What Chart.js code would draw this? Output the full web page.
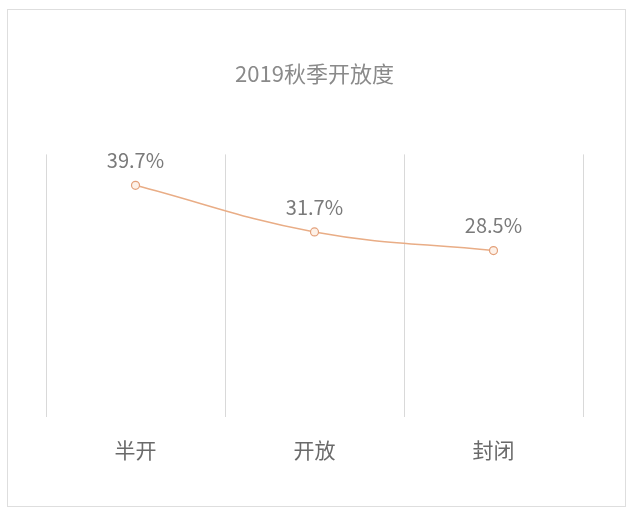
<!DOCTYPE html>
<html>
<head>
<meta charset="utf-8">
<script src="https://cdn.jsdelivr.net/npm/chart.js@4"></script>
<style>
  html, body { margin: 0; padding: 0; background: #fff; }
  #wrap { position: relative; width: 640px; height: 521px; }
  #frame { position: absolute; left: 7px; top: 9px; width: 619px; height: 498px; border: 1px solid #dedede; box-sizing: border-box; }
  canvas { position: absolute; left: 0; top: 0; }
</style>
</head>
<body>
<div id="wrap">
  <div id="frame"></div>
  <canvas id="c" width="640" height="521"></canvas>
</div>
<script>
const title = '2019秋季开放度'
const categories = ['半开', '开放', '封闭']
const openness = [39.7, 31.7, 28.5]
const yMin = 0
const yMax = 45

const FONT = "'Noto Sans CJK SC', 'Noto Sans', sans-serif"

// 点上方的百分比标签
const pointLabels = {
  id: 'pointLabels',
  afterDatasetsDraw(chart) {
    const { ctx } = chart
    const meta = chart.getDatasetMeta(0)
    ctx.save()
    ctx.font = `20px ${FONT}`
    ctx.fillStyle = '#7a7a7a'
    ctx.textAlign = 'center'
    ctx.textBaseline = 'middle'
    meta.data.forEach((pt, i) => {
      ctx.fillText(openness[i].toFixed(1) + '%', pt.x, pt.y - 25)
    })
    ctx.restore()
  },
}

new Chart(document.getElementById('c'), {
  type: 'line',
  data: {
    labels: categories,
    datasets: [{
      data: openness,
      borderColor: '#e9ad86',
      borderWidth: 1.5,
      pointBackgroundColor: '#fdf1e8',
      pointBorderColor: '#e3a07a',
      pointBorderWidth: 1.2,
      pointRadius: 4,
      tension: 0.4,
      fill: false,
    }],
  },
  options: {
    responsive: false,
    animation: false,
    devicePixelRatio: 1,
    layout: { padding: { left: 46, right: 57, top: 60, bottom: 37 } },
    plugins: {
      legend: { display: false },
      tooltip: { enabled: false },
      title: {
        display: true,
        text: title,
        color: '#8a8a8a',
        font: { family: FONT, size: 22, weight: 'normal' },
        padding: { top: 0, bottom: 68 },
      },
    },
    scales: {
      x: {
        offset: true,
        border: { display: false },
        grid: { offset: true, color: '#d9d9d9', lineWidth: 1, drawTicks: false },
        ticks: { color: '#6a6a6a', padding: 21, font: { family: FONT, size: 21 } },
      },
      y: {
        display: false,
        min: yMin,
        max: yMax,
      },
    },
  },
  plugins: [pointLabels],
})
</script>
</body>
</html>
